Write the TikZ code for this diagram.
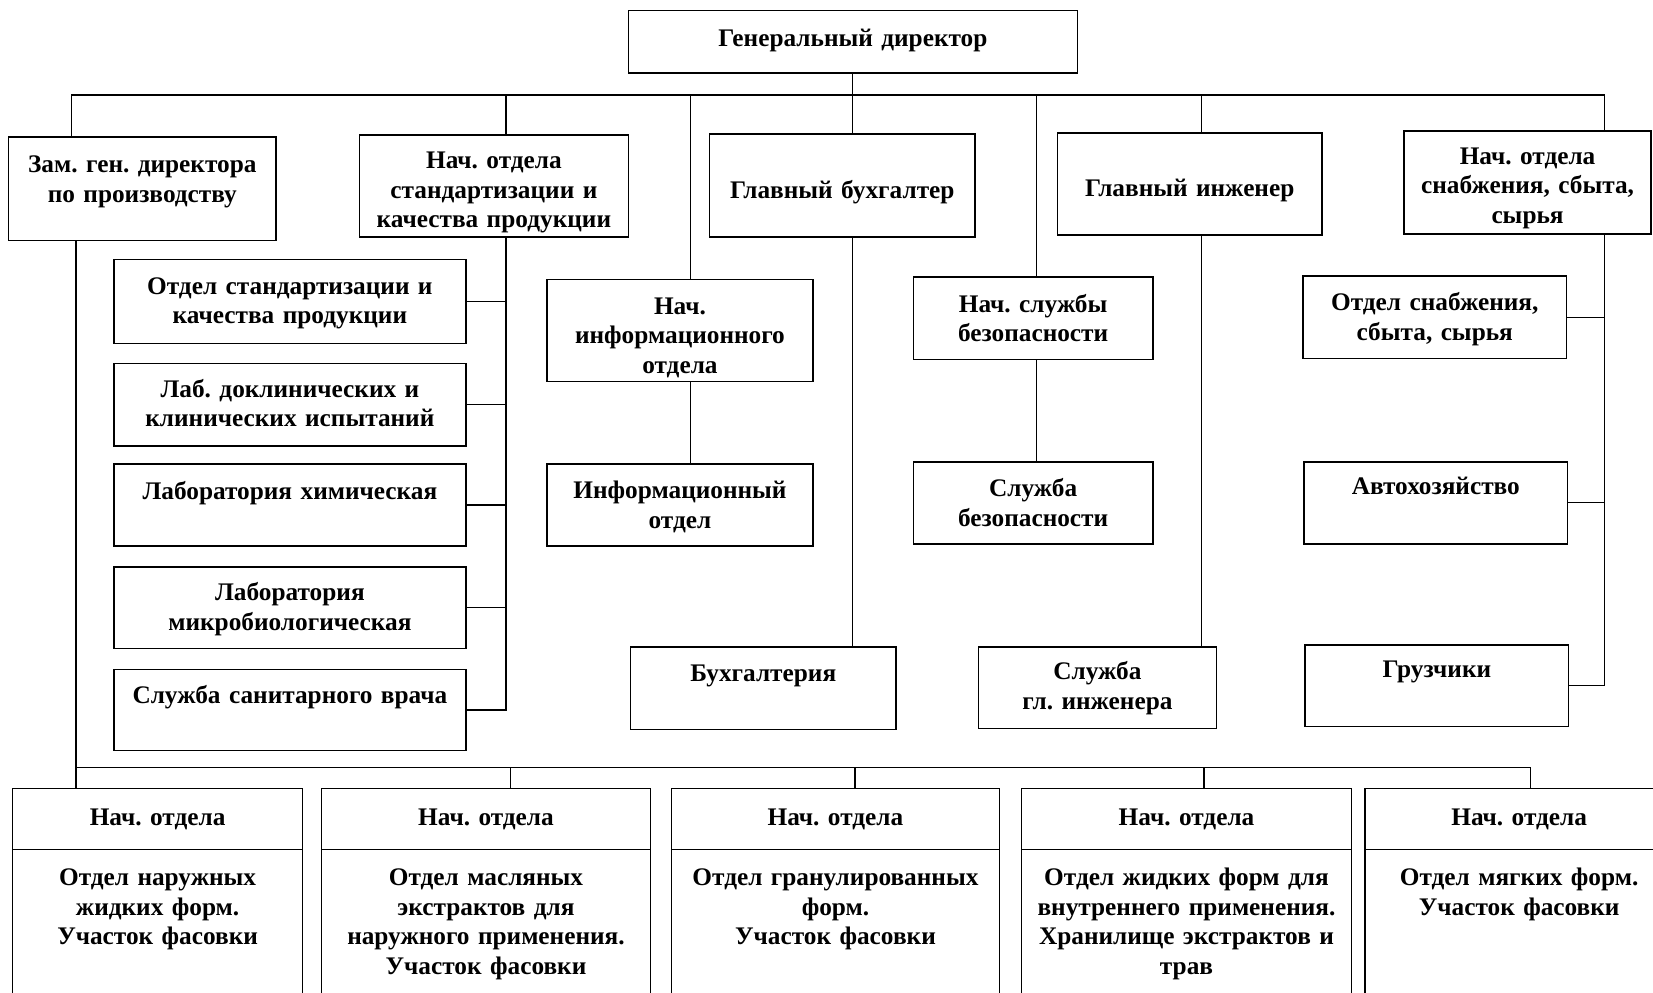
\documentclass[tikz,border=0pt]{standalone}
\usepackage{fontspec}
\setmainfont{Liberation Serif}
\usepackage{tikz}
\usetikzlibrary{positioning}
\frenchspacing

\tikzset{
  unit/.style={draw, fill=white, line width=1.5pt, inner sep=0pt, outer sep=0pt,
    align=center, anchor=north, font=\bfseries\fontsize{24}{28}\selectfont\frenchspacing},
  dims/.style n args={3}{text width=#1pt, text height=#2pt, text depth=#3pt},
  link/.style={line width=1.2pt}
}

\begin{document}
\begin{tikzpicture}[x=1pt, y=-1pt]
    \useasboundingbox (0,0) rectangle (1568,941);
    \clip (0,0) rectangle (1568,941);

    % top level
    \node[unit, dims={426}{34}{25}] (gen) at (809,10) {Генеральный директор};

    \node[unit, dims={254}{34}{64}] (zam) at (135,130) {Зам. ген. директора\\по производству};
    \node[unit, dims={255}{32}{65}] (nachstd) at (468.5,128) {Нач. отдела\\стандартизации и\\качества продукции};
    \node[unit, dims={252}{61}{37}] (glavbuh) at (799,127) {Главный бухгалтер};
    \node[unit, dims={251}{60}{37}] (glinzh) at (1128.5,126) {Главный инженер};
    \node[unit, dims={234}{32}{66}] (nachsnab) at (1449,124) {Нач. отдела\\снабжения, сбыта,\\сырья};

    % quality column
    \node[unit, dims={334}{33}{47}] (otdstd) at (275,246) {Отдел стандартизации и\\качества продукции};
    \node[unit, dims={334}{32}{46}] (labdok) at (275,345) {Лаб. доклинических и\\клинических испытаний};
    \node[unit, dims={334}{34}{44}] (labchem) at (275,440) {Лаборатория химическая};
    \node[unit, dims={334}{32}{45}] (labmicro) at (275,538) {Лаборатория\\микробиологическая};
    \node[unit, dims={334}{32}{45}] (sanvr) at (275,635) {Служба санитарного врача};

    % middle
    \node[unit, dims={252}{33}{64}] (nachinfo) at (645,265) {Нач.\\информационного\\отдела};
    \node[unit, dims={252}{33}{45}] (infootd) at (645,440) {Информационный\\отдел};
    \node[unit, dims={252}{32}{46}] (buhg) at (724,614) {Бухгалтерия};
    \node[unit, dims={227}{33}{45}] (nachsb) at (980,263) {Нач. службы\\безопасности};
    \node[unit, dims={227}{33}{45}] (sb) at (980,438) {Служба\\безопасности};
    \node[unit, dims={226}{31}{46}] (slglinzh) at (1041,614) {Служба\\гл. инженера};

    % supply column
    \node[unit, dims={250}{33}{45}] (otdsnab) at (1361,262) {Отдел снабжения,\\сбыта, сырья};
    \node[unit, dims={250}{31}{47}] (avto) at (1362,438) {Автохозяйство};
    \node[unit, dims={250}{31}{46}] (gruz) at (1363,612) {Грузчики};

    % production departments
    \node[unit, dims={275}{35}{23}] (h1) at (149.5,748) {Нач. отдела};
    \node[unit, dims={312}{35}{23}] (h2) at (461,748) {Нач. отдела};
    \node[unit, dims={311}{35}{23}] (h3) at (792.5,748) {Нач. отдела};
    \node[unit, dims={313}{35}{23}] (h4) at (1125.5,748) {Нач. отдела};
    \node[unit, dims={292}{35}{23}] (h5) at (1441,748) {Нач. отдела};

    \node[unit, dims={275}{34}{160}, below=0pt of h1] (b1) {Отдел наружных\\жидких форм.\\Участок фасовки};
    \node[unit, dims={312}{34}{160}, below=0pt of h2] (b2) {Отдел масляных\\экстрактов для\\наружного применения.\\Участок фасовки};
    \node[unit, dims={311}{34}{160}, below=0pt of h3] (b3) {Отдел гранулированных\\форм.\\Участок фасовки};
    \node[unit, dims={313}{34}{160}, below=0pt of h4] (b4) {Отдел жидких форм для\\внутреннего применения.\\Хранилище экстрактов и\\трав};
    \node[unit, dims={292}{34}{160}, below=0pt of h5] (b5) {Отдел мягких форм.\\Участок фасовки};

    % connectors
    \coordinate (stdbus) at ([xshift=11.5pt]nachstd.south);
    \coordinate (snabbus) at ([xshift=-44pt]nachsnab.south east);
    \coordinate (zambus) at ([xshift=64pt]zam.south west);
    \coordinate (gibus) at ([xshift=11.5pt]glinzh.south);

    \draw[link] ([xshift=-44pt]nachsnab.north east) -- ++(0,-34) -| ([xshift=60pt]zam.north west);
    \foreach \n/\s/\l in {nachstd/11.5/38, nachinfo/10/175, nachsb/3/173, glinzh/11.5/36}
      \draw[link] ([xshift=\s pt]\n.north) -- ++(0,-\l);
    \draw[link] (gen.south) -- (gen.south |- glavbuh.north);
    \draw[link] (gen.south |- glavbuh.south) -- (gen.south |- buhg.north);

    \draw[link] (stdbus) |- (sanvr.east);
    \foreach \n in {otdstd, labdok, labchem, labmicro}
      \draw[link] (\n.east) -- (\n.east -| stdbus);

    \draw[link] ([xshift=10pt]nachinfo.south) -- ([xshift=10pt]infootd.north);
    \draw[link] ([xshift=3pt]nachsb.south) -- ([xshift=3pt]sb.north);
    \draw[link] (gibus) -- (gibus |- slglinzh.north);

    \draw[link] (snabbus) |- (gruz.east);
    \foreach \n in {otdsnab, avto}
      \draw[link] (\n.east) -- (\n.east -| snabbus);

    \draw[link] ([xshift=11pt]h5.north) -- ++(0,-20) -| (zambus);
    \draw[link] (zambus |- h1.north) -- ++(0,-20);
    \foreach \n/\s in {h2/23, h3/18.5, h4/16.5}
      \draw[link] ([xshift=\s pt]\n.north) -- ++(0,-20);
\end{tikzpicture}
\end{document}
